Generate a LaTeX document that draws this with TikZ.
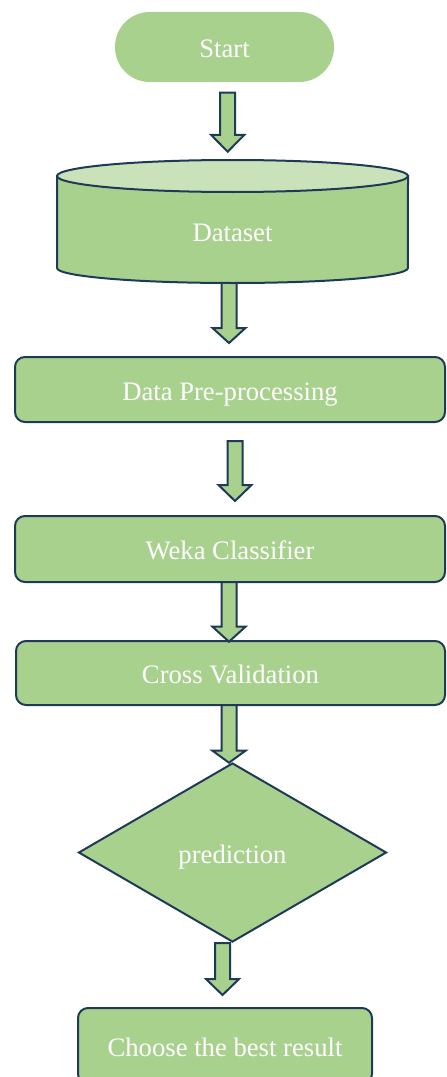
\documentclass[tikz,border=0pt]{standalone}
\usepackage{fontspec}
\setmainfont{Liberation Serif}
\usetikzlibrary{shapes.geometric}
\definecolor{boxgreen}{HTML}{A9D18E}
\definecolor{lightgreen}{HTML}{CAE2B9}
\definecolor{navy}{HTML}{1F3A57}
\def\u{0.75pt}
\tikzset{
  label text/.style={text=white, font=\fontsize{20}{24}\selectfont, text height=16pt, text depth=0pt},
  flow/.style={label text, fill=boxgreen, draw=navy, line width=1.5pt, inner sep=0pt},
  procbox/.style={flow, rectangle, rounded corners=7.5pt},
  arr/.style={fill=boxgreen, draw=navy, line width=1.5pt, line join=miter},
}
% block arrow: #1 x centre, #2 top, #3 head base, #4 tip
\newcommand\barrow[4]{%
  \draw[arr] ({#1-7.5},#2) -- ({#1+7.5},#2) -- ({#1+7.5},#3) -- ({#1+16.5},#3) -- (#1,#4)
    -- ({#1-16.5},#3) -- ({#1-7.5},#3) -- cycle;}
\begin{document}
\begin{tikzpicture}[x=0.75pt,y=-0.75pt]
\useasboundingbox (0,0) rectangle (446,1077);
\clip (0,0) rectangle (446,1077);
% Start
\node[flow, draw=none, rounded corners=26pt, minimum width=219*\u, minimum height=70*\u]
  (start) at (224.5,47) {Start};
% arrows under nodes
\barrow{227.7}{92.7}{135}{151.7}
\barrow{229}{280}{328}{343}
% Dataset cylinder
\path[fill=boxgreen, draw=navy, line width=1.5pt]
  (57,176) -- (57,268) arc[start angle=180, end angle=360, x radius=131.6pt, y radius=11.25pt]
  -- (408,176) -- cycle;
\path[fill=lightgreen, draw=navy, line width=1.5pt]
  (232.5,176) ellipse[x radius=131.6pt, y radius=12pt];
\node[label text, inner sep=0pt] (data) at (232.5,231) {Dataset};
% boxes
\node[procbox, minimum width=430*\u, minimum height=65*\u] (pre) at (230,389.5) {Data Pre-processing};
\barrow{235}{441}{485}{501}
\node[procbox, minimum width=430*\u, minimum height=66*\u] (weka) at (230,549) {Weka Classifier};
\node[procbox, minimum width=429*\u, minimum height=64*\u] (cv) at (230.5,673) {Cross Validation};
\barrow{229}{582}{626.7}{641.7}
\node[flow, diamond, minimum width=308*\u, minimum height=179*\u] (pred) at (232.5,852.5) {prediction};
\barrow{229}{705}{750.7}{762.7}
\barrow{222.5}{943}{979}{995}
\node[procbox, minimum width=294*\u, minimum height=76*\u] (best) at (225,1046) {Choose the best result};
\end{tikzpicture}
\end{document}
